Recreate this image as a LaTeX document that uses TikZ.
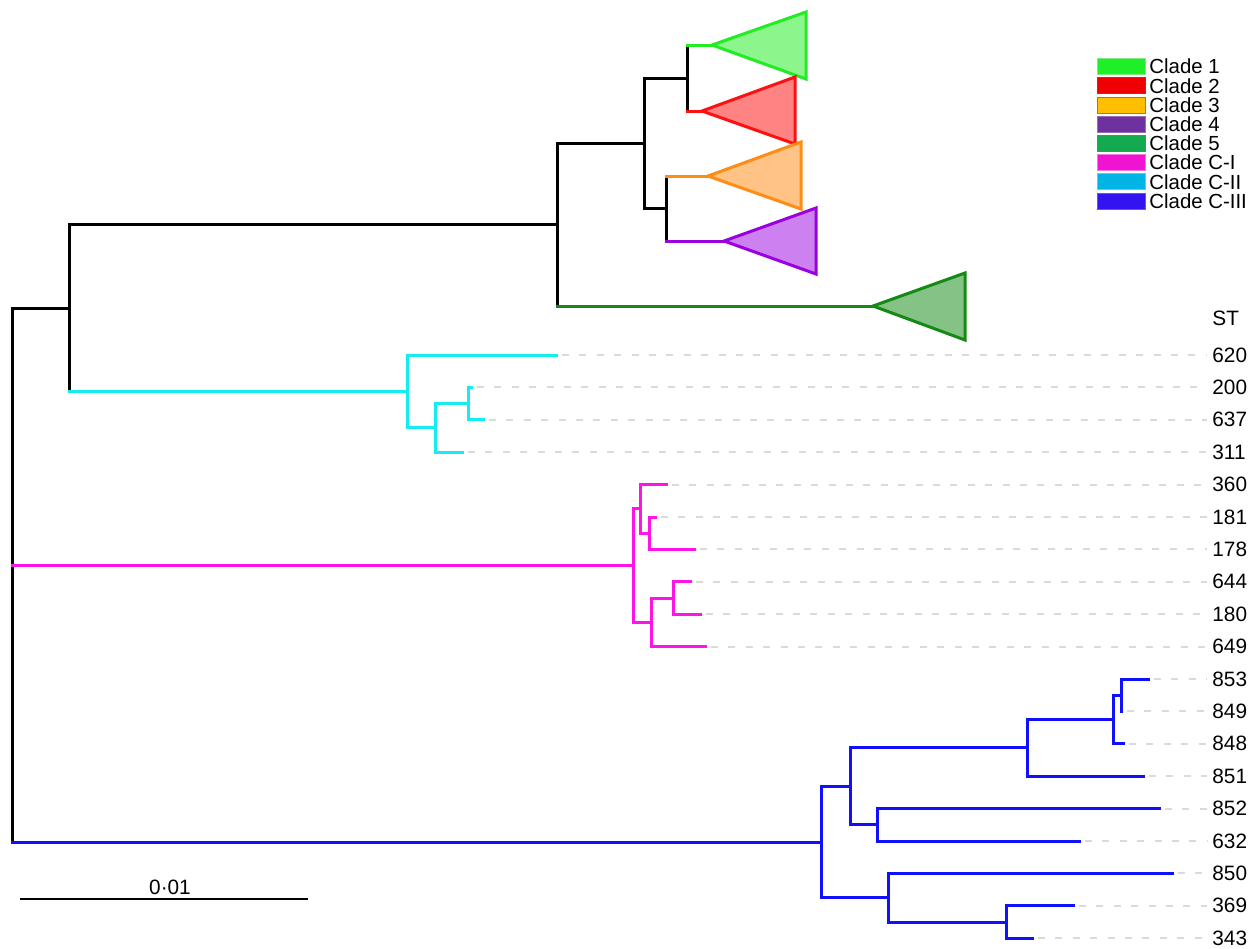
\documentclass[tikz,border=0pt]{standalone}
\usepackage{fontspec}
\setmainfont{Liberation Sans}
\definecolor{cA}{RGB}{34,236,34}
\definecolor{cB}{RGB}{255,16,16}
\definecolor{cC}{RGB}{255,140,20}
\definecolor{cD}{RGB}{155,0,224}
\definecolor{cE}{RGB}{20,138,20}
\definecolor{cyanT}{RGB}{20,236,240}
\definecolor{magT}{RGB}{255,20,232}
\definecolor{bluT}{RGB}{16,16,255}
\definecolor{dashgray}{RGB}{218,218,218}
\definecolor{lf1}{RGB}{30,240,40}\definecolor{lb1}{RGB}{130,230,130}
\definecolor{lf2}{RGB}{240,0,0}\definecolor{lb2}{RGB}{190,40,40}
\definecolor{lf3}{RGB}{255,190,0}\definecolor{lb3}{RGB}{210,100,40}
\definecolor{lf4}{RGB}{110,50,160}\definecolor{lb4}{RGB}{150,110,180}
\definecolor{lf5}{RGB}{20,170,80}\definecolor{lb5}{RGB}{120,130,60}
\definecolor{lf6}{RGB}{240,20,210}\definecolor{lb6}{RGB}{240,120,220}
\definecolor{lf7}{RGB}{0,180,230}\definecolor{lb7}{RGB}{100,200,230}
\definecolor{lf8}{RGB}{50,20,240}\definecolor{lb8}{RGB}{100,90,200}
\begin{document}
\begin{tikzpicture}[x=0.5pt,y=-0.5pt,
  br/.style={line width=1.5pt,line cap=rect},
  tri/.style={line width=1.5pt,line join=miter},
  dashln/.style={draw=dashgray,line width=1pt,dash pattern=on 3.5pt off 5.2pt},
  lab/.style={anchor=west,font=\fontsize{10.4}{12}\selectfont,inner sep=0pt},
  legbox/.style={minimum width=24pt,minimum height=8pt,inner sep=0pt,line width=0.5pt},
  legtxt/.style={anchor=west,font=\fontsize{10.2}{12}\selectfont,inner sep=0pt}]
\useasboundingbox (0,0) rectangle (1252,948);
% internal nodes
\coordinate (root) at (12,576);
\coordinate (A) at (69,308);
\coordinate (B) at (557,224.5);
\coordinate (D) at (644,143);
\coordinate (E) at (687,78);
\coordinate (F) at (666,208.5);
\coordinate (C) at (407,391.45);
\coordinate (G) at (435,427.9);
\coordinate (H) at (468,403.6);
\coordinate (M) at (633,565.6);
\coordinate (P) at (640,508.9);
\coordinate (R) at (649,533.2);
\coordinate (Q) at (651,622.3);
\coordinate (S) at (673,598);
\coordinate (N) at (821,842);
\coordinate (U) at (850,786.3);
\coordinate (W) at (1027,747.85);
\coordinate (Y) at (1113,719.5);
\coordinate (Z) at (1121,695.2);
\coordinate (X) at (877,824.8);
\coordinate (V) at (888,897.7);
\coordinate (T) at (1006,922);
% collapsed clades
\coordinate (k1) at (712,45);  \coordinate (k1a) at (806,12);  \coordinate (k1b) at (806,79);
\coordinate (k2) at (702,111); \coordinate (k2a) at (795,77);  \coordinate (k2b) at (795,144);
\coordinate (k3) at (708,176); \coordinate (k3a) at (801,142); \coordinate (k3b) at (801,209);
\coordinate (k4) at (724,241); \coordinate (k4a) at (816,208); \coordinate (k4b) at (816,274);
\coordinate (k5) at (873,306); \coordinate (k5a) at (965,273); \coordinate (k5b) at (965,340);
% tips
\coordinate (t620) at (556,355);
\coordinate (t200) at (471,387.4);
\coordinate (t637) at (483,419.8);
\coordinate (t311) at (462,452.2);
\coordinate (t360) at (666,484.6);
\coordinate (t181) at (655,517);
\coordinate (t178) at (694,549.4);
\coordinate (t644) at (690,581.8);
\coordinate (t180) at (700,614.2);
\coordinate (t649) at (705,646.6);
\coordinate (t853) at (1148,679);
\coordinate (t849) at (1121,711.4);
\coordinate (t848) at (1123,743.8);
\coordinate (t851) at (1143,776.2);
\coordinate (t852) at (1159,808.6);
\coordinate (t632) at (1079,841);
\coordinate (t850) at (1172,873.4);
\coordinate (t369) at (1073,905.8);
\coordinate (t343) at (1032,938.2);
% labels
\node[lab] (lST) at (1212,318) {ST};
\foreach \n in {620,200,637,311,360,181,178,644,180,649,853,849,848,851,852,632,850,369,343}{
  \node[lab] (l\n) at (1212,0 |- t\n) {\n};
  \draw[dashln] ([xshift=3pt]t\n) -- ([xshift=-2.5pt]t\n -| l\n.west);
}
% black backbone
\draw[br] (root |- A) -- (root |- N);
\draw[br] (root |- A) -- (A);
\draw[br,magT] (root |- M) -- (M);
\draw[br,bluT] (root |- N) -- (N);
\draw[br] (A |- B) -- (A |- C);
\draw[br] (A |- B) -- (B);
\draw[br,cyanT] (A |- C) -- (C);
\draw[br] (B |- D) -- (B |- k5);
\draw[br] (B |- D) -- (D);
\draw[br,cE] (B |- k5) -- (k5);
\draw[br] (D |- E) -- (D |- F);
\draw[br] (D |- E) -- (E);
\draw[br] (D |- F) -- (F);
\draw[br] (E |- k1) -- (E |- k2);
\draw[br,cA] (E |- k1) -- (k1);
\draw[br,cB] (E |- k2) -- (k2);
\draw[br] (F |- k3) -- (F |- k4);
\draw[br,cC] (F |- k3) -- (k3);
\draw[br,cD] (F |- k4) -- (k4);
% triangles
\draw[tri,draw=cA,fill=cA!52!white] (k1) -- (k1a) -- (k1b) -- cycle;
\draw[tri,draw=cB,fill=cB!52!white] (k2) -- (k2a) -- (k2b) -- cycle;
\draw[tri,draw=cC,fill=cC!52!white] (k3) -- (k3a) -- (k3b) -- cycle;
\draw[tri,draw=cD,fill=cD!50!white] (k4) -- (k4a) -- (k4b) -- cycle;
\draw[tri,draw=cE,fill=cE!52!white] (k5) -- (k5a) -- (k5b) -- cycle;
% cyan clade
\begin{scope}[cyanT]
\draw[br] (C |- t620) -- (C |- G);
\draw[br] (C |- t620) -- (t620);
\draw[br] (C |- G) -- (G);
\draw[br] (G |- H) -- (G |- t311);
\draw[br] (G |- H) -- (H);
\draw[br] (G |- t311) -- (t311);
\draw[br] (H |- t200) -- (H |- t637);
\draw[br] (H |- t200) -- (t200);
\draw[br] (H |- t637) -- (t637);
\end{scope}
% magenta clade
\begin{scope}[magT]
\draw[br] (M |- P) -- (M |- Q);
\draw[br] (M |- P) -- (P);
\draw[br] (M |- Q) -- (Q);
\draw[br] (P |- t360) -- (P |- R);
\draw[br] (P |- t360) -- (t360);
\draw[br] (P |- R) -- (R);
\draw[br] (R |- t181) -- (R |- t178);
\draw[br] (R |- t181) -- (t181);
\draw[br] (R |- t178) -- (t178);
\draw[br] (Q |- S) -- (Q |- t649);
\draw[br] (Q |- S) -- (S);
\draw[br] (Q |- t649) -- (t649);
\draw[br] (S |- t644) -- (S |- t180);
\draw[br] (S |- t644) -- (t644);
\draw[br] (S |- t180) -- (t180);
\end{scope}
% blue clade
\begin{scope}[bluT]
\draw[br] (N |- U) -- (N |- V);
\draw[br] (N |- U) -- (U);
\draw[br] (N |- V) -- (V);
\draw[br] (U |- W) -- (U |- X);
\draw[br] (U |- W) -- (W);
\draw[br] (U |- X) -- (X);
\draw[br] (W |- Y) -- (W |- t851);
\draw[br] (W |- Y) -- (Y);
\draw[br] (W |- t851) -- (t851);
\draw[br] (Y |- Z) -- (Y |- t848);
\draw[br] (Y |- Z) -- (Z);
\draw[br] (Y |- t848) -- (t848);
\draw[br] (Z |- t853) -- (Z |- t849);
\draw[br] (Z |- t853) -- (t853);
\draw[br] (X |- t852) -- (X |- t632);
\draw[br] (X |- t852) -- (t852);
\draw[br] (X |- t632) -- (t632);
\draw[br] (V |- t850) -- (V |- T);
\draw[br] (V |- t850) -- (t850);
\draw[br] (V |- T) -- (T);
\draw[br] (T |- t369) -- (T |- t343);
\draw[br] (T |- t369) -- (t369);
\draw[br] (T |- t343) -- (t343);
\end{scope}
% scale bar
\coordinate (sb1) at (20,899);
\coordinate (sb2) at (308,899);
\draw[line width=1.1pt] (sb1) -- (sb2);
\node[lab,anchor=center] (sbl) at (170,887) {0·01};
% legend
\foreach \i/\t in {1/Clade 1,2/Clade 2,3/Clade 3,4/Clade 4,5/Clade 5,6/Clade C-I,7/Clade C-II,8/Clade C-III}{
  \node[legbox,draw=lb\i,fill=lf\i] (key\i) at (1121,{66.7+19.2*(\i-1)}) {};
  \node[legtxt] (kt\i) at (1149,{66.7+19.2*(\i-1)}) {\t};
}
\end{tikzpicture}
\end{document}
